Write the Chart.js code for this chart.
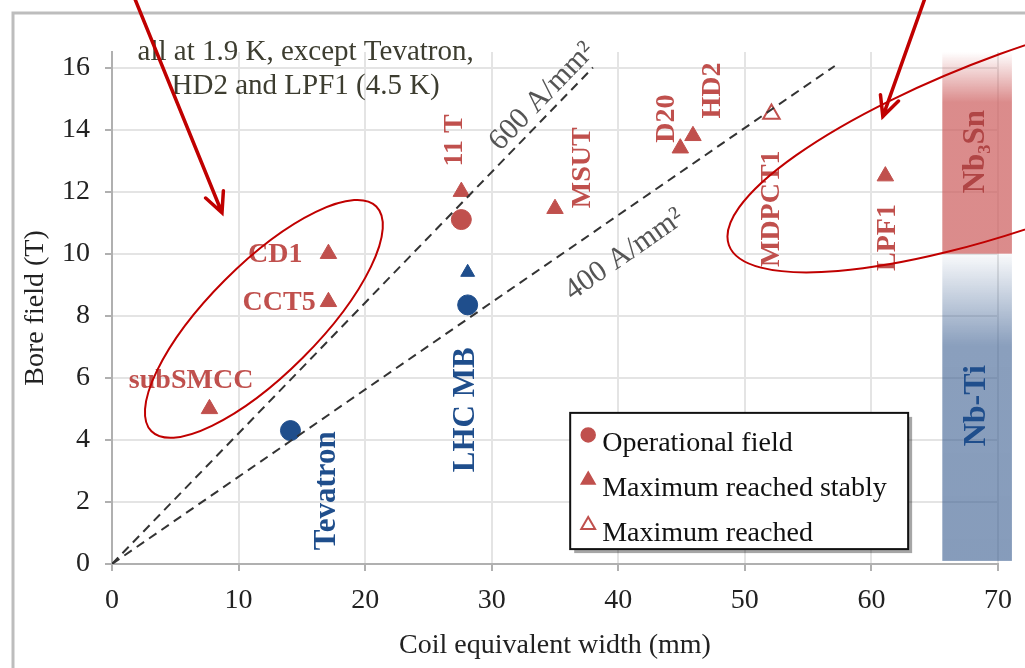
<!DOCTYPE html>
<html>
<head>
<meta charset="utf-8">
<script src="https://cdn.jsdelivr.net/npm/chart.js@4.4.1/dist/chart.umd.min.js"></script>
<style>
  body { margin: 0; background: #fff; }
  #wrap { width: 1025px; height: 668px; }
</style>
</head>
<body>
<div id="wrap"><canvas id="field"></canvas></div>
<script>
// magnets, coil equivalent width (mm) vs bore field (T)
const nb3snOpNames = ['11 T'];
const nb3snOpWidth = [27.6];
const nb3snOpField = [11.1];

const nbtiOpNames = ['Tevatron', 'LHC MB'];
const nbtiOpWidth = [14.1, 28.1];
const nbtiOpField = [4.3, 8.35];

const stableNames = ['subSMCC', 'CCT5', 'CD1', '11 T', 'MSUT', 'D20', 'HD2', 'LPF1'];
const stableWidth = [7.7, 17.1, 17.1, 27.6, 35.0, 44.9, 45.9, 61.1];
const stableField = [5.0, 8.45, 10.0, 12.0, 11.45, 13.4, 13.8, 12.5];

const nbtiStableNames = ['LHC MB'];
const nbtiStableWidth = [28.1];
const nbtiStableField = [9.4];

const maxNames = ['MDPCT1'];
const maxWidth = [52.1];
const maxField = [14.5];

// constant current density lines (from origin)
const densityLabels = ['600 A/mm²', '400 A/mm²'];
const densityEndWidth = [38.0, 57.1];
const densityEndField = [16.0, 16.05];

// conductor bands
const bandWidth = [65.6, 71.1];
const nb3snBand = [10, 16.5];
const nbtiBand = [0.1, 10];

const xTicks = [0, 10, 20, 30, 40, 50, 60, 70];
const yTicks = [0, 2, 4, 6, 8, 10, 12, 14, 16];

const RED = '#c0504d';
const BLUE = '#1f4e8c';
const SERIF = "'Liberation Serif', 'Times New Roman', serif";

const pts = (xs, ys) => xs.map((x, i) => ({ x: x, y: ys[i] }));

// text placed on the plot (data coordinates)
const labels = [
  { t: 'subSMCC', x: 6.25, y: 5.9, r: 0, c: RED, s: 28 },
  { t: 'CD1', x: 12.9, y: 9.97, r: 0, c: RED, s: 28 },
  { t: 'CCT5', x: 13.2, y: 8.42, r: 0, c: RED, s: 28 },
  { t: '11 T', x: 27.1, y: 13.65, r: -90, c: RED, s: 28 },
  { t: 'MSUT', x: 37.2, y: 12.77, r: -90, c: RED, s: 28 },
  { t: 'D20', x: 43.8, y: 14.35, r: -90, c: RED, s: 28 },
  { t: 'HD2', x: 47.5, y: 15.26, r: -90, c: RED, s: 28 },
  { t: 'MDPCT1', x: 52.1, y: 11.45, r: -90, c: RED, s: 28 },
  { t: 'LPF1', x: 61.3, y: 10.52, r: -90, c: RED, s: 28 },
  { t: 'LHC MB', x: 28.0, y: 4.97, r: -90, c: BLUE, s: 31 },
  { t: 'Tevatron', x: 17.0, y: 2.36, r: -90, c: BLUE, s: 31 },
  { t: 'Nb₃Sn', x: 68.3, y: 13.29, r: -90, c: '#b04545', s: 31 },
  { t: 'Nb-Ti', x: 68.3, y: 5.1, r: -90, c: BLUE, s: 32 }
];
const lineLabels = [
  { x: 34.0, y: 15.06, r: -46 },
  { x: 40.5, y: 9.97, r: -35 }
];

const overlay = {
  id: 'overlay',
  beforeDatasetsDraw(chart) {
    const { ctx } = chart;
    const xs = chart.scales.x, ys = chart.scales.y;
    const x0 = xs.getPixelForValue(bandWidth[0]), x1 = xs.getPixelForValue(bandWidth[1]);
    // Nb3Sn band
    let top = ys.getPixelForValue(nb3snBand[1]), bot = ys.getPixelForValue(nb3snBand[0]);
    let g = ctx.createLinearGradient(0, top, 0, bot);
    g.addColorStop(0, 'rgba(205,95,95,0)');
    g.addColorStop(0.25, 'rgba(205,95,95,0.72)');
    g.addColorStop(1, 'rgba(205,95,95,0.72)');
    ctx.save();
    ctx.fillStyle = g;
    ctx.fillRect(x0, top, x1 - x0, bot - top);
    // Nb-Ti band
    top = ys.getPixelForValue(nbtiBand[1]); bot = ys.getPixelForValue(nbtiBand[0]);
    g = ctx.createLinearGradient(0, top, 0, bot);
    g.addColorStop(0, 'rgba(60,95,145,0.03)');
    g.addColorStop(0.3, 'rgba(60,95,145,0.6)');
    g.addColorStop(1, 'rgba(60,95,145,0.62)');
    ctx.fillStyle = g;
    ctx.fillRect(x0, top, x1 - x0, bot - top);
    ctx.restore();
  },
  afterDatasetsDraw(chart) {
    const { ctx } = chart;
    const xs = chart.scales.x, ys = chart.scales.y;
    ctx.save();
    ctx.textAlign = 'center';
    ctx.textBaseline = 'middle';
    labels.forEach(l => {
      ctx.save();
      ctx.font = 'bold ' + l.s + 'px ' + SERIF;
      ctx.translate(xs.getPixelForValue(l.x), ys.getPixelForValue(l.y));
      ctx.rotate(l.r * Math.PI / 180);
      ctx.fillStyle = l.c;
      ctx.fillText(l.t, 0, 0);
      ctx.restore();
    });
    ctx.font = '30px ' + SERIF;
    ctx.fillStyle = '#555';
    lineLabels.forEach((l, i) => {
      ctx.save();
      ctx.translate(xs.getPixelForValue(l.x), ys.getPixelForValue(l.y));
      ctx.rotate(l.r * Math.PI / 180);
      ctx.fillText(densityLabels[i], 0, 0);
      ctx.restore();
    });
    // temperature note
    ctx.font = '29px ' + SERIF;
    ctx.fillStyle = '#3d3d30';
    ctx.fillText('all at 1.9 K, except Tevatron,', xs.getPixelForValue(15.3), ys.getPixelForValue(16.5));
    ctx.fillText('HD2 and LPF1 (4.5 K)', xs.getPixelForValue(15.3), ys.getPixelForValue(15.4));

    // legend
    const lx0 = xs.getPixelForValue(36.2), lx1 = xs.getPixelForValue(62.9);
    const ly0 = ys.getPixelForValue(4.87), ly1 = ys.getPixelForValue(0.48);
    ctx.fillStyle = 'rgba(0,0,0,0.35)';
    ctx.fillRect(lx0 + 4, ly0 + 4, lx1 - lx0, ly1 - ly0);
    ctx.fillStyle = '#fff';
    ctx.fillRect(lx0, ly0, lx1 - lx0, ly1 - ly0);
    ctx.strokeStyle = '#111';
    ctx.lineWidth = 2;
    ctx.strokeRect(lx0, ly0, lx1 - lx0, ly1 - ly0);
    const items = chart.data.datasets.filter(d => d.legend);
    ctx.textAlign = 'left';
    ctx.font = '28px ' + SERIF;
    items.forEach((d, i) => {
      const cy = ly0 + 29 + i * 45;
      const mx = lx0 + 18;
      ctx.beginPath();
      if (d.pointStyle === 'circle') {
        ctx.arc(mx, cy - 7, 7, 0, Math.PI * 2);
      } else {
        const r = 8;
        ctx.moveTo(mx, cy - 7 - r);
        ctx.lineTo(mx + r * 0.866, cy - 7 + r / 2);
        ctx.lineTo(mx - r * 0.866, cy - 7 + r / 2);
        ctx.closePath();
      }
      ctx.fillStyle = d.backgroundColor;
      ctx.fill();
      ctx.strokeStyle = d.borderColor;
      ctx.lineWidth = d.pointBorderWidth || 1.5;
      ctx.stroke();
      ctx.fillStyle = '#111';
      ctx.fillText(d.label, lx0 + 32, cy + 2);
    });
    ctx.restore();
  },
  afterDraw(chart) {
    const { ctx } = chart;
    const xs = chart.scales.x, ys = chart.scales.y;
    ctx.save();
    // outer frame
    ctx.strokeStyle = '#bdbdbd';
    ctx.lineWidth = 3;
    ctx.strokeRect(13, 13, 1100, 800);
    // hand-drawn ellipses
    ctx.strokeStyle = '#c00000';
    ctx.lineWidth = 2;
    ctx.beginPath();
    ctx.ellipse(xs.getPixelForValue(12.0), ys.getPixelForValue(7.9), 159, 55, -Math.PI / 4, 0, Math.PI * 2);
    ctx.stroke();
    ctx.beginPath();
    ctx.ellipse(xs.getPixelForValue(72.5), ys.getPixelForValue(13.8), 320, 87, -20 * Math.PI / 180, 0, Math.PI * 2);
    ctx.stroke();
    // arrows
    const arrow = (ax, ay, bx, by) => {
      const x1 = xs.getPixelForValue(ax), y1 = ys.getPixelForValue(ay);
      const x2 = xs.getPixelForValue(bx), y2 = ys.getPixelForValue(by);
      const a = Math.atan2(y2 - y1, x2 - x1);
      ctx.lineWidth = 3.5;
      ctx.beginPath();
      ctx.moveTo(x1, y1);
      ctx.lineTo(x2, y2);
      ctx.moveTo(x2 - 22 * Math.cos(a - 0.45), y2 - 22 * Math.sin(a - 0.45));
      ctx.lineTo(x2, y2);
      ctx.lineTo(x2 - 22 * Math.cos(a + 0.45), y2 - 22 * Math.sin(a + 0.45));
      ctx.stroke();
    };
    ctx.lineCap = 'round';
    ctx.lineJoin = 'miter';
    arrow(1.82, 18.2, 8.69, 11.32);
    arrow(64.2, 18.2, 60.9, 14.42);
    ctx.restore();
  }
};

const densityLine = (i) => ({
  type: 'line',
  label: densityLabels[i],
  data: [{ x: 0, y: 0 }, { x: densityEndWidth[i], y: densityEndField[i] }],
  borderColor: '#333',
  borderWidth: 2,
  borderDash: [9, 6],
  pointRadius: 0,
  fill: false
});

new Chart(document.getElementById('field'), {
  type: 'scatter',
  data: {
    datasets: [
      densityLine(0),
      densityLine(1),
      { label: 'Operational field', legend: true, data: pts(nb3snOpWidth, nb3snOpField),
        pointStyle: 'circle', pointRadius: 10, backgroundColor: RED, borderColor: RED },
      { label: 'Maximum reached stably', legend: true, data: pts(stableWidth, stableField),
        pointStyle: 'triangle', pointRadius: 9.5, backgroundColor: RED, borderColor: RED },
      { label: 'Maximum reached', legend: true, data: pts(maxWidth, maxField),
        pointStyle: 'triangle', pointRadius: 9.5, backgroundColor: '#fff', borderColor: RED, pointBorderWidth: 2 },
      { label: 'Nb-Ti operational', data: pts(nbtiOpWidth, nbtiOpField),
        pointStyle: 'circle', pointRadius: 10, backgroundColor: BLUE, borderColor: BLUE },
      { label: 'Nb-Ti stable', data: pts(nbtiStableWidth, nbtiStableField),
        pointStyle: 'triangle', pointRadius: 8, backgroundColor: BLUE, borderColor: BLUE }
    ]
  },
  options: {
    responsive: true,
    maintainAspectRatio: false,
    animation: false,
    layout: { padding: { left: 14, top: 52, right: 27, bottom: 4 } },
    plugins: { legend: { display: false }, tooltip: { enabled: false } },
    scales: {
      x: {
        type: 'linear', min: 0, max: 70,
        afterBuildTicks: s => { s.ticks = xTicks.map(v => ({ value: v })); },
        afterFit: s => { s.height = 100; },
        ticks: { font: { family: SERIF, size: 28 }, color: '#222', padding: 13 },
        grid: { color: '#e4e4e4', lineWidth: 2, tickLength: 7, tickColor: '#b0b0b0' },
        border: { color: '#b0b0b0', width: 2 },
        title: { display: true, text: 'Coil equivalent width (mm)', font: { family: SERIF, size: 28 }, color: '#222', padding: { top: 0, bottom: 2 } }
      },
      y: {
        type: 'linear', min: 0, max: 16.5,
        afterBuildTicks: s => { s.ticks = yTicks.map(v => ({ value: v })); },
        afterFit: s => { s.width = 98; },
        ticks: { font: { family: SERIF, size: 28 }, color: '#222', padding: 15 },
        grid: { color: '#e4e4e4', lineWidth: 2, tickLength: 7, tickColor: '#b0b0b0' },
        border: { color: '#b0b0b0', width: 2 },
        title: { display: true, text: 'Bore field (T)', font: { family: SERIF, size: 28 }, color: '#222', padding: { top: 5, bottom: 0 } }
      }
    }
  },
  plugins: [overlay]
});
</script>
</body>
</html>
